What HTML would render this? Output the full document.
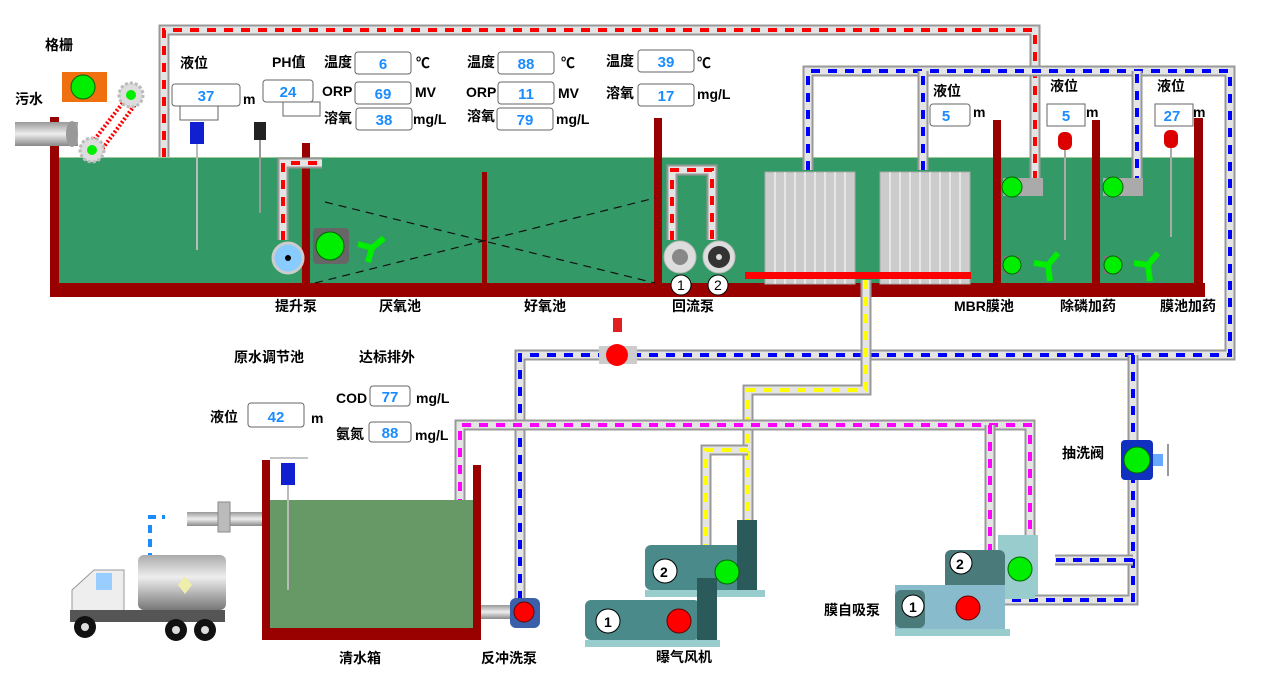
<!DOCTYPE html>
<html><head><meta charset="utf-8"><style>
body{margin:0;background:#fff;}
svg text{font-family:"Liberation Sans","Noto Sans CJK SC",sans-serif;font-weight:bold;font-size:14px;fill:#000;}
.v{fill:#1a8cff;font-size:15px;text-anchor:middle;}
.b{fill:#fff;stroke:#666;stroke-width:1;}
.po{fill:none;stroke:#999;stroke-width:11;stroke-linejoin:miter;}
.pi{fill:none;stroke:#e4e4e4;stroke-width:7;stroke-linejoin:miter;}
.d{fill:none;stroke-width:4;stroke-dasharray:9,8;}
</style></head><body>
<svg width="1267" height="676" viewBox="0 0 1267 676" xmlns="http://www.w3.org/2000/svg">
<defs>
<linearGradient id="gp" x1="0" y1="0" x2="0" y2="1"><stop offset="0" stop-color="#999"/><stop offset=".5" stop-color="#eee"/><stop offset="1" stop-color="#888"/></linearGradient>
<linearGradient id="tk" x1="0" y1="0" x2="0" y2="1"><stop offset="0" stop-color="#aaa"/><stop offset=".4" stop-color="#eee"/><stop offset="1" stop-color="#777"/></linearGradient>
</defs>
<!-- main tank water -->
<rect x="58" y="157" width="1142" height="127" fill="#339966"/>
<line x1="58" y1="157.5" x2="1200" y2="157.5" stroke="#9c9" stroke-width="1"/>
<!-- walls -->
<rect x="50" y="117" width="9" height="180" fill="#990000"/>
<rect x="50" y="283" width="1155" height="14" fill="#990000"/>
<rect x="302" y="143" width="8" height="145" fill="#990000"/>
<rect x="482" y="172" width="5" height="115" fill="#990000"/>
<rect x="654" y="118" width="8" height="170" fill="#990000"/>
<rect x="993" y="120" width="8" height="168" fill="#990000"/>
<rect x="1092" y="120" width="8" height="168" fill="#990000"/>
<rect x="1194" y="118" width="9" height="170" fill="#990000"/>
<!-- dashed cross lines -->
<path d="M325 202 L655 283 M315 283 L655 198" stroke="#111" stroke-width="1.2" stroke-dasharray="8,6" fill="none"/>
<!-- membranes -->
<g fill="#ccc" stroke="#aaa"><rect x="765" y="172" width="90" height="112"/><rect x="880" y="172" width="90" height="112"/></g>
<g stroke="#fff" stroke-width="1"><path d="M775 172v112M785 172v112M795 172v112M805 172v112M815 172v112M825 172v112M835 172v112M845 172v112M890 172v112M900 172v112M910 172v112M920 172v112M930 172v112M940 172v112M950 172v112M960 172v112"/></g>
<rect x="745" y="272" width="226" height="7" fill="#f00"/>
<!-- pipes -->
<g>
<path class="po" d="M164 157V30H1035V190"/><path class="pi" d="M164 157V30H1035V190"/><path class="d" stroke="#f00" d="M164 157V30H1035V190"/>
<path class="po" d="M808 170V71H1230V355H520V600"/><path class="pi" d="M808 170V71H1230V355H520V600"/><path class="d" stroke="#00f" d="M808 170V71H1230V355H520V600"/>
<path class="po" d="M923 170V71"/><path class="pi" d="M923 170V71"/><path class="d" stroke="#00f" d="M923 170V71"/>
<path class="po" d="M1137 185V71"/><path class="pi" d="M1137 185V71"/><path class="d" stroke="#00f" d="M1137 185V71"/>
<path class="po" d="M1133 355V600H1005"/><path class="pi" d="M1133 355V600H1005"/><path class="d" stroke="#00f" d="M1133 355V600H1005"/>
<path class="po" d="M1133 560H1055"/><path class="pi" d="M1133 560H1055"/><path class="d" stroke="#00f" d="M1133 560H1055"/>
<path class="po" d="M866 280V390H748V525"/><path class="pi" d="M866 280V390H748V525"/><path class="d" stroke="#ff0" d="M866 280V390H748V525"/>
<path class="po" d="M748 450H706V585"/><path class="pi" d="M748 450H706V585"/><path class="d" stroke="#ff0" d="M748 450H706V585"/>
<path class="po" d="M460 525V425H1030V540"/><path class="pi" d="M460 525V425H1030V540"/><path class="d" stroke="#f0f" d="M460 525V425H1030V540"/>
<path class="po" d="M990 425V580"/><path class="pi" d="M990 425V580"/><path class="d" stroke="#f0f" d="M990 425V580"/>
<path class="po" d="M283 240V163H322"/><path class="pi" d="M283 240V163H322"/><path class="d" stroke="#f00" d="M283 240V163H322"/>
<path class="po" d="M672 240V170H712V240"/><path class="pi" d="M672 240V170H712V240"/><path class="d" stroke="#f00" d="M672 240V170H712V240"/>
</g>
<!-- clear water tank -->
<rect x="270" y="500" width="203" height="128" fill="#669966"/>
<rect x="262" y="460" width="8" height="180" fill="#990000"/>
<rect x="473" y="465" width="8" height="175" fill="#990000"/>
<rect x="262" y="628" width="219" height="12" fill="#990000"/>
<line x1="270" y1="458" x2="308" y2="458" stroke="#888"/>
<rect x="281" y="463" width="14" height="22" fill="#1020d0"/><line x1="288" y1="485" x2="288" y2="590" stroke="#bbb" stroke-width="2"/>
<!-- inlet pipes -->
<rect x="187" y="512" width="75" height="14" fill="url(#gp)"/><rect x="218" y="502" width="12" height="30" fill="#bbb" stroke="#888"/>
<rect x="15" y="122" width="63" height="24" fill="url(#gp)"/><ellipse cx="72" cy="134" rx="6" ry="13" fill="#999"/>
<rect x="481" y="605" width="32" height="14" fill="url(#gp)"/>
<!-- backwash pump -->
<rect x="510" y="598" width="30" height="30" rx="6" fill="#3b5fa8"/><circle cx="524" cy="612" r="10" fill="#f00" stroke="#600"/>
<!-- red valve -->
<rect x="613" y="318" width="9" height="14" fill="#e02020"/><rect x="599" y="346" width="38" height="18" fill="#ccc"/><circle cx="617" cy="355" r="11" fill="#f00"/>
<!-- flush valve -->
<rect x="1121" y="440" width="32" height="40" rx="4" fill="#1030c0"/><circle cx="1137" cy="460" r="13" fill="#0e0" stroke="#060"/><rect x="1153" y="454" width="10" height="12" fill="#6af"/><line x1="1168" y1="444" x2="1168" y2="476" stroke="#999" stroke-width="2"/>
<!-- screen -->
<rect x="62" y="72" width="45" height="30" fill="#f07010"/><circle cx="83" cy="87" r="12" fill="#0e0" stroke="#060"/>
<path d="M125 100 L88 148 M137 102 L100 152" stroke="#f00" stroke-width="4" stroke-dasharray="2,2"/>
<circle cx="131" cy="95" r="12" fill="#ddd" stroke="#bbb" stroke-width="3" stroke-dasharray="3,2"/><circle cx="131" cy="95" r="5" fill="#0e0"/>
<circle cx="92" cy="150" r="12" fill="#ddd" stroke="#bbb" stroke-width="3" stroke-dasharray="3,2"/><circle cx="92" cy="150" r="5" fill="#0e0"/>
<!-- sensors -->
<rect x="180" y="106" width="38" height="14" class="b"/>
<rect x="190" y="122" width="14" height="22" fill="#1020d0"/><line x1="197" y1="144" x2="197" y2="250" stroke="#bbb" stroke-width="2"/>
<rect x="283" y="102" width="37" height="14" class="b"/>
<rect x="254" y="122" width="12" height="18" fill="#222"/><line x1="260" y1="140" x2="260" y2="213" stroke="#999" stroke-width="2"/>
<g fill="#d00"><rect x="1058" y="132" width="14" height="18" rx="6"/><rect x="1164" y="130" width="14" height="18" rx="6"/></g>
<g stroke="#aaa" stroke-width="2"><line x1="1065" y1="150" x2="1065" y2="240"/><line x1="1171" y1="148" x2="1171" y2="237"/></g>
<!-- top pumps -->
<circle cx="288" cy="258" r="15" fill="#8cf" stroke="#ccc" stroke-width="3"/><circle cx="288" cy="258" r="3" fill="#000"/>
<rect x="313" y="228" width="36" height="36" rx="4" fill="#666"/><circle cx="330" cy="246" r="14" fill="#0e0" stroke="#060"/>
<path d="M372 248 l12 -10 M372 248 l-4 14 M372 248 l-14 -4" stroke="#0e0" stroke-width="6"/>
<circle cx="680" cy="257" r="16" fill="#ddd" stroke="#bbb"/><circle cx="680" cy="257" r="8" fill="#888"/>
<circle cx="719" cy="257" r="16" fill="#ddd" stroke="#bbb"/><circle cx="719" cy="257" r="11" fill="#333"/><circle cx="719" cy="257" r="3" fill="#ddd"/>
<g fill="#fff" stroke="#000"><circle cx="681" cy="285" r="10"/><circle cx="718" cy="285" r="10"/></g>
<text x="677" y="290" font-size="13" font-family="Liberation Serif" style="font-weight:normal">1</text><text x="714" y="290" font-size="13" style="font-weight:normal">2</text>
<g><rect x="1003" y="178" width="40" height="18" fill="#aaa"/><circle cx="1012" cy="187" r="10" fill="#0e0" stroke="#060"/>
<rect x="1103" y="178" width="40" height="18" fill="#aaa"/><circle cx="1113" cy="187" r="10" fill="#0e0" stroke="#060"/>
<rect x="1003" y="256" width="16" height="18" fill="#777"/><circle cx="1012" cy="265" r="9" fill="#0e0" stroke="#060"/>
<rect x="1103" y="256" width="16" height="18" fill="#777"/><circle cx="1113" cy="265" r="9" fill="#0e0" stroke="#060"/>
<path d="M1048 265 l10 -12 M1048 265 l2 16 M1048 265 l-14 -2 M1148 265 l10 -12 M1148 265 l2 16 M1148 265 l-14 -2" stroke="#0e0" stroke-width="6"/></g>
<!-- blowers -->
<g fill="#4a8a8a"><rect x="645" y="545" width="100" height="45" rx="6"/><rect x="737" y="520" width="20" height="75" fill="#2a5a5a"/><rect x="645" y="590" width="120" height="7" fill="#9cc"/>
<rect x="585" y="600" width="115" height="40" rx="6"/><rect x="697" y="578" width="20" height="65" fill="#2a5a5a"/><rect x="585" y="640" width="135" height="7" fill="#9cc"/></g>
<circle cx="727" cy="572" r="12" fill="#0e0" stroke="#060"/><circle cx="679" cy="621" r="12" fill="#f00" stroke="#600"/>
<!-- membrane pumps -->
<g fill="#9cc"><rect x="998" y="535" width="40" height="60"/><rect x="945" y="550" width="60" height="40" fill="#4a7a7a" rx="6"/><rect x="940" y="593" width="95" height="6"/>
<rect x="895" y="585" width="110" height="44" fill="#8bc"/><rect x="895" y="590" width="30" height="38" fill="#4a7a7a" rx="6"/><rect x="895" y="629" width="115" height="7"/></g>
<circle cx="1020" cy="569" r="12" fill="#0e0" stroke="#060"/><circle cx="968" cy="608" r="12" fill="#f00" stroke="#600"/>
<g fill="#fff" stroke="#000"><circle cx="665" cy="571" r="12"/><circle cx="608" cy="621" r="12"/><circle cx="961" cy="563" r="11"/><circle cx="913" cy="606" r="11"/></g>
<g style="font-weight:normal" font-size="16"><text x="660" y="577">2</text><text x="604" y="627">1</text><text x="956" y="569">2</text><text x="909" y="612">1</text></g>
<!-- truck -->
<path d="M150 617V517H165" stroke="#1a8cff" stroke-width="4" stroke-dasharray="8,6" fill="none"/>
<rect x="138" y="555" width="88" height="55" rx="6" fill="url(#tk)"/>
<path d="M178 585l7-9 7 9-7 9z" fill="#eea"/>
<path d="M72 610V590l22-20h30v45H72z" fill="#eee" stroke="#999"/><rect x="96" y="573" width="16" height="17" fill="#9cf"/>
<rect x="70" y="610" width="155" height="12" fill="#555"/>
<g fill="#111"><circle cx="85" cy="627" r="11"/><circle cx="176" cy="630" r="11"/><circle cx="205" cy="630" r="11"/></g>
<g fill="#ddd"><circle cx="85" cy="627" r="4"/><circle cx="176" cy="630" r="4"/><circle cx="205" cy="630" r="4"/></g>
<!-- value boxes -->
<g class="b">
<rect x="172" y="84" width="68" height="22" rx="3"/><rect x="263" y="80" width="50" height="22" rx="3"/>
<rect x="355" y="52" width="56" height="22" rx="3"/><rect x="355" y="82" width="56" height="22" rx="3"/><rect x="356" y="108" width="56" height="22" rx="3"/>
<rect x="498" y="52" width="56" height="22" rx="3"/><rect x="498" y="82" width="56" height="22" rx="3"/><rect x="497" y="108" width="56" height="22" rx="3"/>
<rect x="638" y="50" width="56" height="22" rx="3"/><rect x="638" y="84" width="56" height="22" rx="3"/>
<rect x="930" y="104" width="40" height="22" rx="3"/><rect x="1047" y="104" width="38" height="22"/><rect x="1155" y="104" width="38" height="22"/>
<rect x="248" y="403" width="56" height="24" rx="3"/><rect x="370" y="386" width="40" height="20" rx="3"/><rect x="369" y="422" width="42" height="20" rx="3"/>
</g>
<g class="v">
<text class="v" x="206" y="101">37</text><text class="v" x="288" y="97">24</text>
<text class="v" x="383" y="69">6</text><text class="v" x="383" y="99">69</text><text class="v" x="384" y="125">38</text>
<text class="v" x="526" y="69">88</text><text class="v" x="526" y="99">11</text><text class="v" x="525" y="125">79</text>
<text class="v" x="666" y="67">39</text><text class="v" x="666" y="101">17</text>
<text class="v" x="946" y="121">5</text><text class="v" x="1066" y="121">5</text><text class="v" x="1172" y="121">27</text>
<text class="v" x="276" y="422">42</text><text class="v" x="390" y="402">77</text><text class="v" x="390" y="438">88</text>
</g>
<!-- labels -->
<g>
<text x="45" y="50" font-size="13">格栅</text><text x="15" y="104" font-size="13">污水</text>
<text x="180" y="68" font-size="13">液位</text><text x="243" y="104">m</text>
<text x="272" y="67" font-size="13">PH值</text>
<text x="324" y="67" font-size="13">温度</text><text x="416" y="68">℃</text>
<text x="322" y="96">ORP</text><text x="415" y="97">MV</text>
<text x="324" y="123" font-size="13">溶氧</text><text x="413" y="124">mg/L</text>
<text x="467" y="67" font-size="13">温度</text><text x="561" y="68">℃</text>
<text x="466" y="97">ORP</text><text x="558" y="98">MV</text>
<text x="467" y="121" font-size="13">溶氧</text><text x="556" y="124">mg/L</text>
<text x="606" y="66" font-size="13">温度</text><text x="697" y="68">℃</text>
<text x="606" y="98" font-size="13">溶氧</text><text x="697" y="99">mg/L</text>
<text x="933" y="96" font-size="13">液位</text><text x="973" y="117">m</text>
<text x="1050" y="91" font-size="13">液位</text><text x="1086" y="117">m</text>
<text x="1157" y="91" font-size="13">液位</text><text x="1193" y="117">m</text>
<text x="275" y="311">提升泵</text><text x="379" y="311">厌氧池</text><text x="524" y="311">好氧池</text><text x="672" y="311">回流泵</text>
<text x="954" y="311">MBR膜池</text><text x="1060" y="311">除磷加药</text><text x="1160" y="311">膜池加药</text>
<text x="234" y="362" font-size="13">原水调节池</text><text x="359" y="362" font-size="13">达标排外</text>
<text x="210" y="422" font-size="13">液位</text><text x="311" y="423">m</text>
<text x="336" y="403">COD</text><text x="416" y="403">mg/L</text>
<text x="336" y="439" font-size="13">氨氮</text><text x="415" y="440">mg/L</text>
<text x="1062" y="458" font-size="13">抽洗阀</text><text x="824" y="615" font-size="13">膜自吸泵</text>
<text x="656" y="662">曝气风机</text><text x="339" y="663">清水箱</text><text x="481" y="663">反冲洗泵</text>
</g>
</svg>
</body></html>
